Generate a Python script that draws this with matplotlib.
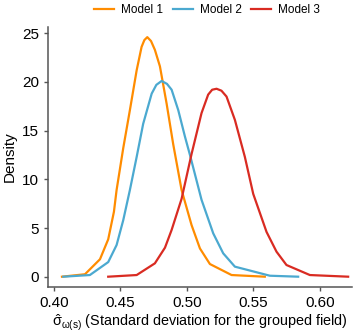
import numpy as np
import matplotlib.pyplot as plt

plt.rcParams['font.family'] = ['Liberation Sans', 'DejaVu Sans']
plt.rcParams['mathtext.fontset'] = 'custom'
plt.rcParams['mathtext.rm'] = 'Liberation Sans'
plt.rcParams['mathtext.it'] = 'Liberation Sans'

# density curves
x1 = [0.406, 0.4233, 0.4346, 0.4408, 0.4451, 0.4471, 0.4521, 0.4571, 0.4622, 0.4659,
      0.4680, 0.4702, 0.4730, 0.4759, 0.4797, 0.4847, 0.4897, 0.4960, 0.5035, 0.5098,
      0.5173, 0.5336, 0.5586]
y1 = [0.0, 0.25, 1.79, 3.84, 6.67, 8.9, 13.2, 17.1, 21.2, 23.6,
      24.3, 24.6, 24.2, 23.3, 21.6, 17.8, 13.6, 8.9, 5.3, 2.9,
      1.3, 0.17, 0.0]

x2 = [0.407, 0.427, 0.4408, 0.4471, 0.4521, 0.4571, 0.4622, 0.4671, 0.4735, 0.4770,
      0.4810, 0.4850, 0.4885, 0.4935, 0.4985, 0.5023, 0.5110, 0.5198, 0.5273, 0.5361,
      0.5624, 0.5837]
y2 = [0.0, 0.17, 1.5, 3.25, 5.8, 8.9, 12.3, 15.7, 18.8, 19.7,
      20.1, 19.8, 19.2, 17.1, 14.4, 12.5, 7.9, 4.45, 2.4, 1.03,
      0.1, 0.0]

x3 = [0.4408, 0.4622, 0.4759, 0.4835, 0.4885, 0.4960, 0.5035, 0.5110, 0.5160, 0.5190,
      0.5223, 0.5260, 0.5298, 0.5361, 0.5436, 0.5499, 0.5599, 0.5674, 0.5749, 0.5925,
      0.6213]
y3 = [0.0, 0.17, 1.37, 2.98, 4.8, 8.0, 12.6, 16.8, 18.7, 19.2,
      19.3, 19.1, 18.5, 16.1, 12.3, 8.5, 4.6, 2.57, 1.2, 0.17,
      0.0]

labels = ['Model 1', 'Model 2', 'Model 3']
colors = ['#FF8C00', '#4BA9D0', '#D92B22']

fig = plt.figure(figsize=(3.54, 3.32), dpi=100)
ax = fig.add_axes([0.1356, 0.1355, 0.858, 0.784])

for xs, ys, lab, c in zip([x1, x2, x3], [y1, y2, y3], labels, colors):
    ax.plot(xs, ys, color=c, lw=1.6, label=lab, solid_joinstyle='round')

ax.set_xlim(0.3955, 0.624)
ax.set_ylim(-1.06, 25.67)
ax.set_xticks([0.40, 0.45, 0.50, 0.55, 0.60])
ax.set_xticklabels(['0.40', '0.45', '0.50', '0.55', '0.60'])
ax.set_yticks([0, 5, 10, 15, 20, 25])

for s in ['top', 'right']:
    ax.spines[s].set_visible(False)
for s in ['left', 'bottom']:
    ax.spines[s].set_color('#555555')
    ax.spines[s].set_linewidth(1.1)
ax.tick_params(colors='#555555', labelcolor='black', labelsize=11, length=3, width=1)

ax.set_ylabel('Density', fontsize=11, labelpad=4)
ax.set_xlabel(r'$\hat{\sigma}_{\omega(s)}$ (Standard deviation for the grouped field)',
              fontsize=10.4, labelpad=2)

fig.legend(loc='upper center', bbox_to_anchor=(0.585, 1.02), ncol=3, frameon=False,
           fontsize=8.5, handlelength=1.7, handletextpad=0.6, columnspacing=0.8)

fig.savefig('out.png', dpi=100)
